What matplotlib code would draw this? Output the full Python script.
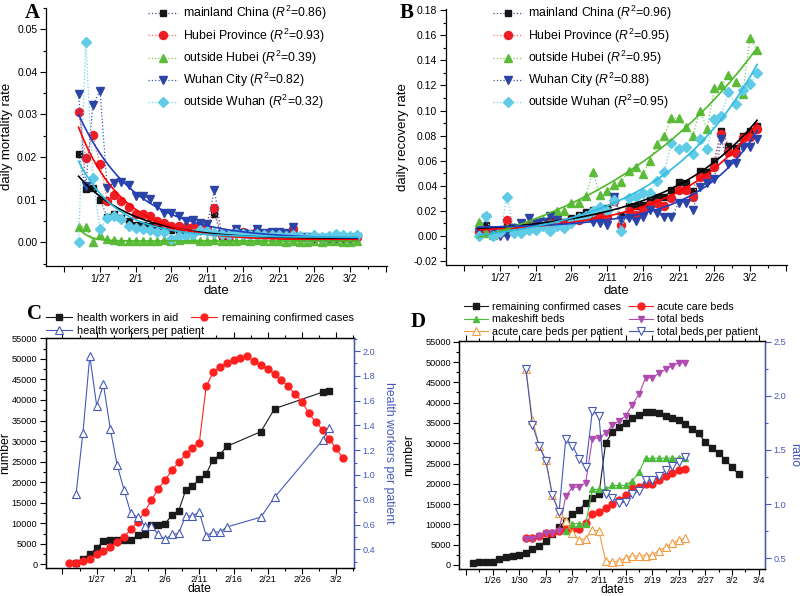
import numpy as np
import matplotlib
matplotlib.use("Agg")
import matplotlib.pyplot as plt
from matplotlib.ticker import FixedLocator, MultipleLocator, FormatStrFormatter

plt.rcParams['font.family'] = ['Liberation Sans', 'DejaVu Sans']
plt.rcParams['mathtext.fontset'] = 'custom'
plt.rcParams['mathtext.rm'] = 'Liberation Sans'
plt.rcParams['mathtext.it'] = 'Liberation Sans:italic'

# ---------------- data (day number = day of year 2020, 1/27 = 27, 2/1 = 32, 3/2 = 62) -------------
days_AB = np.arange(24, 64)

mort_mainland = [0.0207, 0.0125, 0.0128, 0.0100, 0.0060, 0.0066, 0.0058, 0.0049, 0.0040, 0.0041,
                 0.0039, 0.0035, 0.0032, 0.0028, 0.0029, 0.0027, 0.0031, 0.0030, 0.0029, 0.0066,
                 0.0015, 0.0012, 0.0025, 0.0022, 0.0020, 0.0025, 0.0018, 0.0020, 0.0020, 0.0018,
                 0.0030, 0.0012, 0.0010, 0.0009, 0.0010, 0.0011, 0.0012, 0.0010, 0.0011, 0.0013]
mort_hubei = [0.0305, 0.0198, 0.0252, 0.0184, 0.0098, 0.0112, 0.0098, 0.0082, 0.0067, 0.0066,
              0.0061, 0.0051, 0.0045, 0.0039, 0.0039, 0.0037, 0.0037, 0.0037, 0.0032, 0.0081,
              0.0018, 0.0015, 0.0027, 0.0023, 0.0020, 0.0026, 0.0020, 0.0022, 0.0021, 0.0019,
              0.0030, 0.0012, 0.0011, 0.0010, 0.0010, 0.0011, 0.0012, 0.0010, 0.0011, 0.0012]
mort_out_hubei = [0.0037, 0.0037, 0.0001, 0.0016, 0.0007, 0.0005, 0.0004, 0.0004, 0.0002, 0.0003,
                  0.0002, 0.0002, 0.0005, 0.0003, 0.0005, 0.0008, 0.0008, 0.0004, 0.0004, 0.0005,
                  0.0003, 0.0004, 0.0003, 0.0005, 0.0004, 0.0006, 0.0003, 0.0004, 0.0004, 0.0001,
                  0.0002, 0.0001, 0.0000, 0.0003, 0.0001, 0.0002, 0.0003, 0.0000, 0.0000, 0.0002]
mort_wuhan = [0.0348, 0.0131, 0.0322, 0.0356, 0.0128, 0.0139, 0.0141, 0.0135, 0.0109, 0.0108,
              0.0102, 0.0084, 0.0069, 0.0068, 0.0062, 0.0050, 0.0052, 0.0045, 0.0043, 0.0123,
              0.0020, 0.0016, 0.0032, 0.0022, 0.0020, 0.0030, 0.0022, 0.0025, 0.0024, 0.0022,
              0.0036, 0.0013, 0.0012, 0.0010, 0.0009, 0.0011, 0.0010, 0.0009, 0.0011, 0.0012]
mort_out_wuhan = [0.0000, 0.0470, 0.0151, 0.0030, 0.0057, 0.0062, 0.0054, 0.0039, 0.0033, 0.0031,
                  0.0029, 0.0025, 0.0023, 0.0007, 0.0014, 0.0015, 0.0020, 0.0028, 0.0026, 0.0022,
                  0.0020, 0.0017, 0.0021, 0.0019, 0.0018, 0.0020, 0.0017, 0.0016, 0.0018, 0.0015,
                  0.0017, 0.0014, 0.0012, 0.0016, 0.0013, 0.0014, 0.0019, 0.0016, 0.0015, 0.0016]

# exponential-decay fit parameters: y = amp*exp(-rate*(day-24)) + base
mort_fit_amp = [0.0148, 0.0265, 0.0030, 0.0292, 0.0178]
mort_fit_rate = [0.128, 0.163, 0.70, 0.125, 0.184]
mort_fit_base = [0.0007, 0.0005, 0.0003, 0.0008, 0.0012]

rec_mainland = [0.005, 0.009, 0.004, 0.004, 0.0095, 0.006, 0.007, 0.008, 0.010, 0.011,
                0.012, 0.013, 0.011, 0.014, 0.017, 0.019, 0.021, 0.019, 0.022, 0.030,
                0.0156, 0.024, 0.0235, 0.0246, 0.029, 0.031, 0.031, 0.037, 0.043, 0.042,
                0.036, 0.052, 0.051, 0.060, 0.084, 0.072, 0.070, 0.080, 0.084, 0.088]
rec_hubei = [0.003, 0.004, 0.002, 0.002, 0.013, 0.005, 0.006, 0.009, 0.008, 0.009,
             0.010, 0.012, 0.010, 0.012, 0.013, 0.015, 0.014, 0.016, 0.015, 0.028,
             0.009, 0.020, 0.017, 0.021, 0.025, 0.026, 0.024, 0.030, 0.037, 0.037,
             0.031, 0.047, 0.047, 0.055, 0.081, 0.067, 0.066, 0.078, 0.079, 0.085]
rec_out_hubei = [0.011, 0.002, 0.001, 0.004, 0.006, 0.007, 0.008, 0.010, 0.011, 0.013,
                 0.011, 0.020, 0.020, 0.026, 0.026, 0.032, 0.051, 0.033, 0.036, 0.041,
                 0.043, 0.052, 0.055, 0.049, 0.060, 0.073, 0.080, 0.094, 0.094, 0.087,
                 0.080, 0.100, 0.085, 0.118, 0.120, 0.128, 0.123, 0.113, 0.158, 0.148]
rec_wuhan = [0.003, 0.014, 0.003, 0.000, 0.000, 0.006, 0.010, 0.014, 0.010, 0.011,
             0.016, 0.013, 0.007, 0.011, 0.013, 0.015, 0.011, 0.010, 0.009, 0.031,
             0.013, 0.014, 0.012, 0.015, 0.021, 0.018, 0.015, 0.015, 0.026, 0.026,
             0.021, 0.039, 0.042, 0.045, 0.077, 0.057, 0.058, 0.071, 0.071, 0.077]
rec_out_wuhan = [0.000, 0.016, 0.000, 0.003, 0.031, 0.002, 0.002, 0.005, 0.005, 0.008,
                 0.004, 0.008, 0.006, 0.010, 0.014, 0.016, 0.020, 0.023, 0.020, 0.029,
                 0.004, 0.030, 0.031, 0.034, 0.034, 0.044, 0.051, 0.074, 0.069, 0.071,
                 0.065, 0.077, 0.069, 0.093, 0.096, 0.115, 0.105, 0.116, 0.121, 0.130]

series_names = ['mainland China', 'Hubei Province', 'outside Hubei', 'Wuhan City', 'outside Wuhan']
r2_mortality = ['0.86', '0.93', '0.39', '0.82', '0.32']
r2_recovery = ['0.96', '0.95', '0.95', '0.88', '0.95']

# Panel C
days_C_remaining = np.arange(23, 64)
remaining_C = [400, 450, 900, 1200, 2450, 3300, 4300, 5500, 6700, 8500,
               10400, 12700, 15600, 18400, 20500, 23000, 24800, 26900, 28400, 29600,
               43300, 46700, 48000, 48900, 49700, 50200, 50600, 49500, 48600, 47600,
               46300, 44900, 43300, 41400, 39600, 36800, 34600, 32800, 30400, 28200, 25800]
days_C_workers = [24, 25, 26, 27, 28, 29, 30, 31, 32, 33, 34, 35, 36, 37, 38, 39, 40, 41, 42,
                  43, 44, 45, 46, 51, 53, 60, 61]
workers_C = [430, 1400, 2500, 3900, 5800, 5900, 5900, 5900, 5900, 7100, 7500, 9500, 9600, 9900,
             12000, 13100, 18000, 19100, 20700, 22000, 25500, 26600, 28700, 32300, 37900, 41900, 42200]
workers_per_patient_C = [0.85, 1.34, 1.96, 1.56, 1.73, 1.37, 1.08, 0.88, 0.69, 0.66, 0.59, 0.59,
                         0.52, 0.48, 0.52, 0.53, 0.67, 0.67, 0.70, 0.51, 0.54, 0.54, 0.58, 0.66,
                         0.82, 1.28, 1.38]

# Panel D
days_D_remaining = np.arange(23, 64)
remaining_D = [575, 650, 650, 740, 1560, 1890, 2200, 2460, 3040, 3860,
               4760, 5900, 7640, 9360, 10800, 12500, 13600, 15300, 16600, 17500,
               30100, 32700, 34100, 35100, 36100, 36900, 37800, 37800, 37400, 36700,
               36200, 35700, 34700, 33600, 32400, 30200, 28900, 27700, 25900, 24100, 22300]
days_D_beds = np.arange(31, 56)
acute_beds_D = [6650, 6650, 7220, 7960, 7960, 8290, 8870, 8870, 8870, 10260, 12480, 12970, 14100,
                15000, 15900, 17200, 18900, 19200, 19950, 20000, 20900, 21800, 22600, 23400, 23600]
total_beds_D = [6400, 6300, 7100, 8000, 8000, 8400, 17000, 19100, 19200, 20300, 31000, 31400, 32400,
                34400, 35500, 36700, 39500, 42000, 46100, 46100, 47200, 48200, 49000, 49800, 49800]
days_D_makeshift = np.arange(37, 56)
makeshift_beds_D = [8300, 10200, 10200, 10200, 18600, 18600, 18600, 19600, 19600, 19600,
                    20700, 22800, 26300, 26300, 26300, 26300, 26300, 26300, 26300]
acute_per_patient_D = [2.25, 1.78, 1.54, 1.41, 1.08, 0.92, 0.84, 0.73, 0.67, 0.68, 0.76, 0.75, 0.475,
                       0.463, 0.478, 0.50, 0.525, 0.518, 0.525, 0.531, 0.571, 0.601, 0.638, 0.669, 0.685]
total_per_patient_D = [2.25, 1.73, 1.54, 1.40, 1.08, 0.93, 1.60, 1.54, 1.42, 1.34, 1.86, 1.81, 1.09,
                       1.06, 1.01, 1.02, 1.09, 1.12, 1.22, 1.22, 1.26, 1.31, 1.35, 1.39, 1.43]

ticks_ABC = [22, 27, 32, 37, 42, 47, 52, 57, 62, 67]
ticklabels_ABC = ['', '1/27', '2/1', '2/6', '2/11', '2/16', '2/21', '2/26', '3/2', '']
ticks_D = [22, 26, 30, 34, 38, 42, 46, 50, 54, 58, 62, 66]
ticklabels_D = ['', '1/26', '1/30', '2/3', '2/7', '2/11', '2/15', '2/19', '2/23', '2/27', '3/2', '3/4']

# ---------------- styles ----------------
mk_colors = ['#161616', '#ee1c24', '#5cbb38', '#2b44a6', '#5fcbe6']
dot_colors = ['#4a4a8a', '#ff6a6a', '#7ccc55', '#3d55b5', '#6ad2ee']
fit_colors = ['#000000', '#ff0000', '#4cb82a', '#1f3fbf', '#2fbbe0']
markers = ['s', 'o', '^', 'v', 'D']
msizes = [5, 5.8, 5.5, 5.5, 5]
RIGHT_BLUE = '#4659b8'


def exp_fit(t, y, ks):
    t = np.asarray(t, float)
    y = np.asarray(y, float)
    best = None
    for k in ks:
        X = np.column_stack([np.exp(k * t), np.ones_like(t)])
        coef = np.linalg.lstsq(X, y, rcond=None)[0]
        sse = np.sum((X @ coef - y) ** 2)
        if best is None or sse < best[0]:
            best = (sse, k, coef)
    _, k, coef = best
    return lambda tt: coef[0] * np.exp(k * tt) + coef[1]


def style_axis(ax, fs=7.5):
    ax.tick_params(axis='both', which='major', direction='out', length=4, width=0.8, labelsize=fs, pad=2)
    ax.tick_params(axis='both', which='minor', direction='out', length=2, width=0.8)
    for s in ax.spines.values():
        s.set_linewidth(0.9)


fig = plt.figure(figsize=(8.0, 5.96), dpi=100)


def rect(l, r, t, b):
    W, H = 800.0, 596.0
    return [l / W, 1 - b / H, (r - l) / W, (b - t) / H]


def panel_AB(ax, data, r2s, ylabel, fits, legend_x):
    handles = []
    for i, y in enumerate(data):
        h, = ax.plot(days_AB, y, linestyle=':', color=dot_colors[i], lw=0.9,
                     marker=markers[i], ms=msizes[i], mfc=mk_colors[i], mec=mk_colors[i],
                     label=series_names[i] + ' ($R^2$=' + r2s[i] + ')', zorder=3)
        handles.append(h)
    tt = np.linspace(0, days_AB[-1] - days_AB[0], 200)
    for i, f in enumerate(fits):
        ax.plot(tt + days_AB[0], f(tt), color=fit_colors[i], lw=1.2, zorder=4)
    ax.set_xlim(19.4, 67.15)
    ax.xaxis.set_major_locator(FixedLocator(ticks_ABC))
    ax.set_xticklabels(ticklabels_ABC)
    ax.xaxis.set_minor_locator(FixedLocator([t + 2.5 for t in ticks_ABC[:-1]]))
    ax.spines['top'].set_visible(False)
    ax.spines['right'].set_visible(False)
    ax.set_xlabel('date', fontsize=9.5, labelpad=1)
    ax.set_ylabel(ylabel, fontsize=9.5, labelpad=3)
    style_axis(ax)
    fig.legend(handles=handles, loc='upper left', bbox_to_anchor=(legend_x, 0.993),
               frameon=False, fontsize=8.8, handlelength=2.45, handletextpad=0.4,
               labelspacing=0.33, borderpad=0, borderaxespad=0)


# ---------------- Panel A ----------------
axA = fig.add_axes(rect(45.7, 387, 8, 265.7))
fitsA = [(lambda tt, a=a, k=k, c=c: a * np.exp(-k * tt) + c)
         for a, k, c in zip(mort_fit_amp, mort_fit_rate, mort_fit_base)]
panel_AB(axA, [mort_mainland, mort_hubei, mort_out_hubei, mort_wuhan, mort_out_wuhan],
         r2_mortality, 'daily mortality rate', fitsA, 148 / 800)
axA.set_ylim(-0.0055, 0.055)
axA.yaxis.set_major_locator(FixedLocator([0, 0.01, 0.02, 0.03, 0.04, 0.05]))
axA.yaxis.set_minor_locator(MultipleLocator(0.005))
axA.yaxis.set_major_formatter(FormatStrFormatter('%.2f'))

# ---------------- Panel B ----------------
axB = fig.add_axes(rect(445.7, 786.7, 9, 265))
recB = [rec_mainland, rec_hubei, rec_out_hubei, rec_wuhan, rec_out_wuhan]
fitsB = [exp_fit(days_AB - days_AB[0], y, np.linspace(0.005, 0.25, 600)) for y in recB]
panel_AB(axB, recB, r2_recovery, 'daily recovery rate', fitsB, 493 / 800)
axB.set_ylim(-0.0232, 0.181)
axB.yaxis.set_major_locator(MultipleLocator(0.02))
axB.yaxis.set_minor_locator(MultipleLocator(0.01))
axB.yaxis.set_major_formatter(FormatStrFormatter('%.2f'))

# ---------------- Panel C ----------------
axC = fig.add_axes(rect(45.7, 354, 337.7, 567.7))
axC2 = axC.twinx()
hC1, = axC.plot(days_C_workers, workers_C, '-', color='#1a1a1a', lw=0.8, marker='s', ms=4.5,
                mfc='#1a1a1a', mec='#1a1a1a', label='health workers in aid')
hC2, = axC.plot(days_C_remaining, remaining_C, '-', color='#ff2020', lw=0.8, marker='o', ms=5,
                mfc='#ff2020', mec='#ff2020', label='remaining confirmed cases')
hC3, = axC2.plot(days_C_workers, workers_per_patient_C, '-', color=RIGHT_BLUE, lw=0.8, marker='^',
                 ms=5.5, mfc='white', mec=RIGHT_BLUE, mew=0.8, label='health workers per patient')
axC.set_xlim(19.56, 64.6)
axC.set_ylim(-811, 55160)
axC2.set_ylim(0.252, 2.1075)
axC.xaxis.set_major_locator(FixedLocator(ticks_ABC[:-1]))
axC.set_xticklabels(ticklabels_ABC[:-1])
axC.xaxis.set_minor_locator(FixedLocator([t + 2.5 for t in ticks_ABC[:-1]]))
axC.yaxis.set_major_locator(MultipleLocator(5000))
axC.yaxis.set_minor_locator(MultipleLocator(2500))
axC2.yaxis.set_major_locator(FixedLocator([0.4, 0.6, 0.8, 1.0, 1.2, 1.4, 1.6, 1.8, 2.0]))
axC2.yaxis.set_minor_locator(MultipleLocator(0.1))
axC2.yaxis.set_major_formatter(FormatStrFormatter('%.1f'))
for a in (axC, axC2):
    style_axis(a, 6.6)
axC.tick_params(axis='x', pad=1)
axC.set_xlabel('date', fontsize=8.8, labelpad=-0.5)
axC.set_ylabel('number', fontsize=8.8)
axC.yaxis.set_label_coords(-0.112, 0.5)
axC2.set_ylabel('health workers per patient', fontsize=8.8, color=RIGHT_BLUE, rotation=270, va='center')
axC2.yaxis.set_label_coords(1.115, 0.5)
axC.tick_params(top=True, which='both')
axC2.spines['right'].set_color(RIGHT_BLUE)
axC2.tick_params(axis='y', which='both', colors=RIGHT_BLUE)
fig.legend(handles=[hC1, hC3], loc='upper left', bbox_to_anchor=(46 / 800, 1 - 313 / 596), frameon=False,
           fontsize=7.9, handlelength=2.4, handletextpad=0.4, labelspacing=0.25, borderpad=0, borderaxespad=0)
fig.legend(handles=[hC2], loc='upper left', bbox_to_anchor=(191 / 800, 1 - 313 / 596), frameon=False,
           fontsize=7.9, handlelength=2.4, handletextpad=0.4, labelspacing=0.25, borderpad=0, borderaxespad=0)

# ---------------- Panel D ----------------
axD = fig.add_axes(rect(459.3, 765.3, 340.9, 569.3))
axD2 = axD.twinx()
GREEN_D, MAG_D, ORANGE_D = '#4cbb3c', '#b04cb0', '#f59a3f'
hD1, = axD.plot(days_D_remaining, remaining_D, '-', color='#1a1a1a', lw=0.8, marker='s', ms=4.5,
                mfc='#1a1a1a', mec='#1a1a1a', label='remaining confirmed cases', zorder=3)
hD2, = axD.plot(days_D_beds, acute_beds_D, '-', color='#ff2020', lw=0.8, marker='o', ms=5,
                mfc='#ff2020', mec='#ff2020', label='acute care beds', zorder=3)
hD3, = axD.plot(days_D_makeshift, makeshift_beds_D, '-', color=GREEN_D, lw=0.8, marker='^', ms=5,
                mfc=GREEN_D, mec=GREEN_D, label='makeshift beds', zorder=3)
hD4, = axD.plot(days_D_beds, total_beds_D, '-', color=MAG_D, lw=0.8, marker='v', ms=5,
                mfc=MAG_D, mec=MAG_D, label='total beds', zorder=3)
hD5, = axD2.plot(days_D_beds, acute_per_patient_D, '-', color=ORANGE_D, lw=0.8, marker='^', ms=5.5,
                 mfc='white', mec=ORANGE_D, mew=0.8, label='acute care beds per patient')
hD6, = axD2.plot(days_D_beds, total_per_patient_D, '-', color=RIGHT_BLUE, lw=0.8, marker='v', ms=5.5,
                 mfc='white', mec=RIGHT_BLUE, mew=0.8, label='total beds per patient')
axD.set_xlim(21.0, 67.0)
axD.set_ylim(-1060, 55200)
axD2.set_ylim(0.398, 2.506)
axD.xaxis.set_major_locator(FixedLocator(ticks_D))
axD.set_xticklabels(ticklabels_D)
axD.xaxis.set_minor_locator(FixedLocator([t + 2 for t in ticks_D[:-1]]))
axD.yaxis.set_major_locator(MultipleLocator(5000))
axD.yaxis.set_minor_locator(MultipleLocator(2500))
axD2.yaxis.set_major_locator(FixedLocator([0.5, 1.0, 1.5, 2.0, 2.5]))
axD2.yaxis.set_minor_locator(MultipleLocator(0.25))
axD2.yaxis.set_major_formatter(FormatStrFormatter('%.1f'))
for a in (axD, axD2):
    style_axis(a, 6.6)
axD.tick_params(axis='x', pad=1)
axD.set_xlabel('date', fontsize=8.8, labelpad=-1)
axD.set_ylabel('number', fontsize=8.8)
axD.yaxis.set_label_coords(-0.145, 0.5)
axD2.set_ylabel('ratio', fontsize=8.8, color=RIGHT_BLUE, rotation=270, va='center')
axD2.yaxis.set_label_coords(1.095, 0.5)
axD.tick_params(top=True, which='both')
axD2.spines['right'].set_color(RIGHT_BLUE)
axD2.tick_params(axis='y', which='both', colors=RIGHT_BLUE)
fig.legend(handles=[hD1, hD3, hD5], loc='upper left', bbox_to_anchor=(464 / 800, 1 - 302 / 596), frameon=False,
           fontsize=7.7, handlelength=2.2, handletextpad=0.4, labelspacing=0.22, borderpad=0, borderaxespad=0)
fig.legend(handles=[hD2, hD4, hD6], loc='upper left', bbox_to_anchor=(629 / 800, 1 - 302 / 596), frameon=False,
           fontsize=7.7, handlelength=2.2, handletextpad=0.4, labelspacing=0.22, borderpad=0, borderaxespad=0)

# ---------------- panel letters ----------------
for letter, x, y in [('A', 25, 3), ('B', 400, 3), ('C', 27, 304), ('D', 411, 312)]:
    fig.text(x / 800, 1 - y / 596, letter, fontsize=15, fontweight='bold', family='Liberation Serif',
             ha='left', va='top')

fig.savefig('out.png', dpi=100)
